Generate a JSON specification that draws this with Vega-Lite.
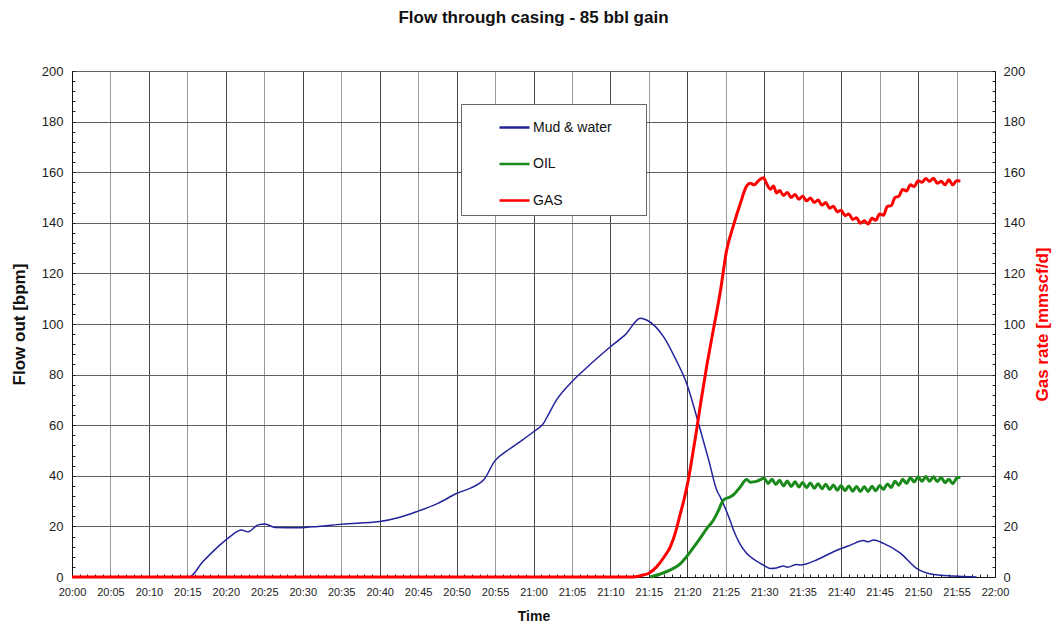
{
  "$schema": "https://vega.github.io/schema/vega-lite/v6.json",
  "width": 923,
  "height": 506,
  "autosize": {"type": "none"},
  "padding": {"left": 72, "top": 71, "right": 60, "bottom": 48},
  "background": "white",
  "title": {"text": "Flow through casing - 85 bbl gain", "fontSize": 17, "fontWeight": "bold", "font": "Liberation Sans", "color": "#111", "offset": 38, "anchor": "middle"},
  "config": {
    "view": {"stroke": "#111", "strokeWidth": 1},
    "font": "Liberation Sans",
    "axis": {"labelFont": "Liberation Sans", "titleFont": "Liberation Sans", "labelColor": "#222", "titleColor": "#111", "domainColor": "#111", "tickColor": "#222"}
  },
  "datasets": {
    "flow": [
      {"s": "Mud & water", "t": "2009-01-01T20:00:00", "v": 0},
      {"s": "Mud & water", "t": "2009-01-01T20:15:12", "v": 0},
      {"s": "Mud & water", "t": "2009-01-01T20:17:00", "v": 6},
      {"s": "Mud & water", "t": "2009-01-01T20:19:00", "v": 12},
      {"s": "Mud & water", "t": "2009-01-01T20:20:48", "v": 16.6},
      {"s": "Mud & water", "t": "2009-01-01T20:22:00", "v": 18.6},
      {"s": "Mud & water", "t": "2009-01-01T20:22:54", "v": 17.9},
      {"s": "Mud & water", "t": "2009-01-01T20:24:12", "v": 20.6},
      {"s": "Mud & water", "t": "2009-01-01T20:25:06", "v": 20.9},
      {"s": "Mud & water", "t": "2009-01-01T20:26:24", "v": 19.6},
      {"s": "Mud & water", "t": "2009-01-01T20:29:36", "v": 19.5},
      {"s": "Mud & water", "t": "2009-01-01T20:32:00", "v": 20.0},
      {"s": "Mud & water", "t": "2009-01-01T20:35:06", "v": 20.9},
      {"s": "Mud & water", "t": "2009-01-01T20:40:00", "v": 21.9},
      {"s": "Mud & water", "t": "2009-01-01T20:42:30", "v": 23.5},
      {"s": "Mud & water", "t": "2009-01-01T20:44:48", "v": 25.8},
      {"s": "Mud & water", "t": "2009-01-01T20:47:30", "v": 29},
      {"s": "Mud & water", "t": "2009-01-01T20:50:00", "v": 33},
      {"s": "Mud & water", "t": "2009-01-01T20:52:24", "v": 36},
      {"s": "Mud & water", "t": "2009-01-01T20:53:30", "v": 38.3},
      {"s": "Mud & water", "t": "2009-01-01T20:55:00", "v": 46},
      {"s": "Mud & water", "t": "2009-01-01T20:56:42", "v": 50.2},
      {"s": "Mud & water", "t": "2009-01-01T20:58:30", "v": 54},
      {"s": "Mud & water", "t": "2009-01-01T21:00:00", "v": 57.4},
      {"s": "Mud & water", "t": "2009-01-01T21:01:18", "v": 60.7},
      {"s": "Mud & water", "t": "2009-01-01T21:01:54", "v": 64},
      {"s": "Mud & water", "t": "2009-01-01T21:03:00", "v": 70},
      {"s": "Mud & water", "t": "2009-01-01T21:04:48", "v": 76.6},
      {"s": "Mud & water", "t": "2009-01-01T21:07:00", "v": 83},
      {"s": "Mud & water", "t": "2009-01-01T21:10:00", "v": 91},
      {"s": "Mud & water", "t": "2009-01-01T21:12:00", "v": 96},
      {"s": "Mud & water", "t": "2009-01-01T21:13:54", "v": 102.3},
      {"s": "Mud & water", "t": "2009-01-01T21:14:42", "v": 101.6},
      {"s": "Mud & water", "t": "2009-01-01T21:16:54", "v": 95},
      {"s": "Mud & water", "t": "2009-01-01T21:18:30", "v": 86},
      {"s": "Mud & water", "t": "2009-01-01T21:19:54", "v": 76.6},
      {"s": "Mud & water", "t": "2009-01-01T21:21:42", "v": 58},
      {"s": "Mud & water", "t": "2009-01-01T21:22:48", "v": 46},
      {"s": "Mud & water", "t": "2009-01-01T21:23:48", "v": 34.5},
      {"s": "Mud & water", "t": "2009-01-01T21:24:18", "v": 31.5},
      {"s": "Mud & water", "t": "2009-01-01T21:25:36", "v": 22},
      {"s": "Mud & water", "t": "2009-01-01T21:26:00", "v": 18.6},
      {"s": "Mud & water", "t": "2009-01-01T21:27:42", "v": 9.4},
      {"s": "Mud & water", "t": "2009-01-01T21:28:12", "v": 8},
      {"s": "Mud & water", "t": "2009-01-01T21:29:54", "v": 4.7},
      {"s": "Mud & water", "t": "2009-01-01T21:30:48", "v": 3.4},
      {"s": "Mud & water", "t": "2009-01-01T21:31:36", "v": 3.6},
      {"s": "Mud & water", "t": "2009-01-01T21:32:30", "v": 4.3},
      {"s": "Mud & water", "t": "2009-01-01T21:33:00", "v": 3.9},
      {"s": "Mud & water", "t": "2009-01-01T21:34:12", "v": 4.9},
      {"s": "Mud & water", "t": "2009-01-01T21:34:42", "v": 4.7},
      {"s": "Mud & water", "t": "2009-01-01T21:37:00", "v": 7},
      {"s": "Mud & water", "t": "2009-01-01T21:39:00", "v": 10},
      {"s": "Mud & water", "t": "2009-01-01T21:41:12", "v": 12.6},
      {"s": "Mud & water", "t": "2009-01-01T21:42:54", "v": 14.4},
      {"s": "Mud & water", "t": "2009-01-01T21:43:30", "v": 13.9},
      {"s": "Mud & water", "t": "2009-01-01T21:44:12", "v": 14.6},
      {"s": "Mud & water", "t": "2009-01-01T21:45:30", "v": 13.3},
      {"s": "Mud & water", "t": "2009-01-01T21:47:42", "v": 9.4},
      {"s": "Mud & water", "t": "2009-01-01T21:49:48", "v": 3.4},
      {"s": "Mud & water", "t": "2009-01-01T21:52:00", "v": 1},
      {"s": "Mud & water", "t": "2009-01-01T21:54:36", "v": 0.4},
      {"s": "Mud & water", "t": "2009-01-01T21:57:36", "v": 0},
      {"s": "OIL", "t": "2009-01-01T21:15:12", "v": 0},
      {"s": "OIL", "t": "2009-01-01T21:16:30", "v": 1.2},
      {"s": "OIL", "t": "2009-01-01T21:17:48", "v": 2.8},
      {"s": "OIL", "t": "2009-01-01T21:19:00", "v": 5},
      {"s": "OIL", "t": "2009-01-01T21:19:54", "v": 8},
      {"s": "OIL", "t": "2009-01-01T21:21:00", "v": 12.5},
      {"s": "OIL", "t": "2009-01-01T21:21:42", "v": 15.5},
      {"s": "OIL", "t": "2009-01-01T21:22:30", "v": 19},
      {"s": "OIL", "t": "2009-01-01T21:23:24", "v": 22.5},
      {"s": "OIL", "t": "2009-01-01T21:24:00", "v": 26},
      {"s": "OIL", "t": "2009-01-01T21:24:42", "v": 30.4},
      {"s": "OIL", "t": "2009-01-01T21:25:36", "v": 31.7},
      {"s": "OIL", "t": "2009-01-01T21:26:00", "v": 32.5},
      {"s": "OIL", "t": "2009-01-01T21:26:54", "v": 35.7},
      {"s": "OIL", "t": "2009-01-01T21:27:42", "v": 38.5},
      {"s": "OIL", "t": "2009-01-01T21:28:12", "v": 37.5},
      {"s": "OIL", "t": "2009-01-01T21:29:00", "v": 37.8},
      {"s": "OIL", "t": "2009-01-01T21:30:00", "v": 39.0},
      {"s": "OIL", "t": "2009-01-01T21:30:30", "v": 37.0},
      {"s": "OIL", "t": "2009-01-01T21:31:00", "v": 38.6},
      {"s": "OIL", "t": "2009-01-01T21:31:30", "v": 36.6},
      {"s": "OIL", "t": "2009-01-01T21:32:00", "v": 38.2},
      {"s": "OIL", "t": "2009-01-01T21:32:30", "v": 36.0},
      {"s": "OIL", "t": "2009-01-01T21:33:00", "v": 37.9},
      {"s": "OIL", "t": "2009-01-01T21:33:30", "v": 35.8},
      {"s": "OIL", "t": "2009-01-01T21:34:00", "v": 37.6},
      {"s": "OIL", "t": "2009-01-01T21:34:30", "v": 35.6},
      {"s": "OIL", "t": "2009-01-01T21:35:00", "v": 37.4},
      {"s": "OIL", "t": "2009-01-01T21:35:30", "v": 35.3},
      {"s": "OIL", "t": "2009-01-01T21:36:00", "v": 37.2},
      {"s": "OIL", "t": "2009-01-01T21:36:30", "v": 35.1},
      {"s": "OIL", "t": "2009-01-01T21:37:00", "v": 36.9},
      {"s": "OIL", "t": "2009-01-01T21:37:30", "v": 34.9},
      {"s": "OIL", "t": "2009-01-01T21:38:00", "v": 36.7},
      {"s": "OIL", "t": "2009-01-01T21:38:30", "v": 34.6},
      {"s": "OIL", "t": "2009-01-01T21:39:00", "v": 36.4},
      {"s": "OIL", "t": "2009-01-01T21:39:30", "v": 34.3},
      {"s": "OIL", "t": "2009-01-01T21:40:00", "v": 36.2},
      {"s": "OIL", "t": "2009-01-01T21:40:30", "v": 34.1},
      {"s": "OIL", "t": "2009-01-01T21:41:00", "v": 36.0},
      {"s": "OIL", "t": "2009-01-01T21:41:30", "v": 33.9},
      {"s": "OIL", "t": "2009-01-01T21:42:00", "v": 35.8},
      {"s": "OIL", "t": "2009-01-01T21:42:30", "v": 33.8},
      {"s": "OIL", "t": "2009-01-01T21:43:00", "v": 35.7},
      {"s": "OIL", "t": "2009-01-01T21:43:30", "v": 33.8},
      {"s": "OIL", "t": "2009-01-01T21:44:00", "v": 35.9},
      {"s": "OIL", "t": "2009-01-01T21:44:30", "v": 34.1},
      {"s": "OIL", "t": "2009-01-01T21:45:00", "v": 36.2},
      {"s": "OIL", "t": "2009-01-01T21:45:30", "v": 34.6},
      {"s": "OIL", "t": "2009-01-01T21:46:00", "v": 36.8},
      {"s": "OIL", "t": "2009-01-01T21:46:30", "v": 35.4},
      {"s": "OIL", "t": "2009-01-01T21:47:00", "v": 37.8},
      {"s": "OIL", "t": "2009-01-01T21:47:30", "v": 36.3},
      {"s": "OIL", "t": "2009-01-01T21:48:00", "v": 38.6},
      {"s": "OIL", "t": "2009-01-01T21:48:30", "v": 37.0},
      {"s": "OIL", "t": "2009-01-01T21:49:00", "v": 39.2},
      {"s": "OIL", "t": "2009-01-01T21:49:30", "v": 37.6},
      {"s": "OIL", "t": "2009-01-01T21:50:00", "v": 39.6},
      {"s": "OIL", "t": "2009-01-01T21:50:30", "v": 37.8},
      {"s": "OIL", "t": "2009-01-01T21:51:00", "v": 39.7},
      {"s": "OIL", "t": "2009-01-01T21:51:30", "v": 37.8},
      {"s": "OIL", "t": "2009-01-01T21:52:00", "v": 39.6},
      {"s": "OIL", "t": "2009-01-01T21:52:30", "v": 37.7},
      {"s": "OIL", "t": "2009-01-01T21:53:00", "v": 39.4},
      {"s": "OIL", "t": "2009-01-01T21:53:30", "v": 37.3},
      {"s": "OIL", "t": "2009-01-01T21:54:00", "v": 38.6},
      {"s": "OIL", "t": "2009-01-01T21:54:30", "v": 36.9},
      {"s": "OIL", "t": "2009-01-01T21:55:00", "v": 39.0},
      {"s": "OIL", "t": "2009-01-01T21:55:30", "v": 39.4},
      {"s": "GAS", "t": "2009-01-01T20:00:00", "v": 0},
      {"s": "GAS", "t": "2009-01-01T21:13:00", "v": 0},
      {"s": "GAS", "t": "2009-01-01T21:14:00", "v": 0.6},
      {"s": "GAS", "t": "2009-01-01T21:15:00", "v": 1.5},
      {"s": "GAS", "t": "2009-01-01T21:16:00", "v": 4},
      {"s": "GAS", "t": "2009-01-01T21:17:00", "v": 8},
      {"s": "GAS", "t": "2009-01-01T21:17:48", "v": 12},
      {"s": "GAS", "t": "2009-01-01T21:18:30", "v": 18},
      {"s": "GAS", "t": "2009-01-01T21:19:00", "v": 24},
      {"s": "GAS", "t": "2009-01-01T21:19:36", "v": 31},
      {"s": "GAS", "t": "2009-01-01T21:20:06", "v": 38},
      {"s": "GAS", "t": "2009-01-01T21:20:40", "v": 48},
      {"s": "GAS", "t": "2009-01-01T21:21:12", "v": 58},
      {"s": "GAS", "t": "2009-01-01T21:21:48", "v": 70},
      {"s": "GAS", "t": "2009-01-01T21:22:30", "v": 83},
      {"s": "GAS", "t": "2009-01-01T21:23:24", "v": 98},
      {"s": "GAS", "t": "2009-01-01T21:24:18", "v": 113},
      {"s": "GAS", "t": "2009-01-01T21:25:06", "v": 129},
      {"s": "GAS", "t": "2009-01-01T21:26:00", "v": 139},
      {"s": "GAS", "t": "2009-01-01T21:26:54", "v": 147.7},
      {"s": "GAS", "t": "2009-01-01T21:27:42", "v": 154.5},
      {"s": "GAS", "t": "2009-01-01T21:28:12", "v": 155.6},
      {"s": "GAS", "t": "2009-01-01T21:28:42", "v": 155},
      {"s": "GAS", "t": "2009-01-01T21:29:12", "v": 156.5},
      {"s": "GAS", "t": "2009-01-01T21:29:54", "v": 157.8},
      {"s": "GAS", "t": "2009-01-01T21:30:18", "v": 155.5},
      {"s": "GAS", "t": "2009-01-01T21:30:48", "v": 153.3},
      {"s": "GAS", "t": "2009-01-01T21:31:12", "v": 154.5},
      {"s": "GAS", "t": "2009-01-01T21:31:36", "v": 151.8},
      {"s": "GAS", "t": "2009-01-01T21:32:00", "v": 152.8},
      {"s": "GAS", "t": "2009-01-01T21:32:30", "v": 150.8},
      {"s": "GAS", "t": "2009-01-01T21:33:00", "v": 152.0},
      {"s": "GAS", "t": "2009-01-01T21:33:30", "v": 150.0},
      {"s": "GAS", "t": "2009-01-01T21:34:00", "v": 151.2},
      {"s": "GAS", "t": "2009-01-01T21:34:30", "v": 149.3},
      {"s": "GAS", "t": "2009-01-01T21:35:00", "v": 150.5},
      {"s": "GAS", "t": "2009-01-01T21:35:30", "v": 148.7},
      {"s": "GAS", "t": "2009-01-01T21:36:00", "v": 149.8},
      {"s": "GAS", "t": "2009-01-01T21:36:30", "v": 148.0},
      {"s": "GAS", "t": "2009-01-01T21:37:00", "v": 149.0},
      {"s": "GAS", "t": "2009-01-01T21:37:30", "v": 147.0},
      {"s": "GAS", "t": "2009-01-01T21:38:00", "v": 148.0},
      {"s": "GAS", "t": "2009-01-01T21:38:30", "v": 145.8},
      {"s": "GAS", "t": "2009-01-01T21:39:00", "v": 146.5},
      {"s": "GAS", "t": "2009-01-01T21:39:30", "v": 144.3},
      {"s": "GAS", "t": "2009-01-01T21:40:00", "v": 145.0},
      {"s": "GAS", "t": "2009-01-01T21:40:30", "v": 142.8},
      {"s": "GAS", "t": "2009-01-01T21:41:00", "v": 143.5},
      {"s": "GAS", "t": "2009-01-01T21:41:30", "v": 141.3},
      {"s": "GAS", "t": "2009-01-01T21:42:00", "v": 142.0},
      {"s": "GAS", "t": "2009-01-01T21:42:30", "v": 139.8},
      {"s": "GAS", "t": "2009-01-01T21:43:00", "v": 140.8},
      {"s": "GAS", "t": "2009-01-01T21:43:30", "v": 139.5},
      {"s": "GAS", "t": "2009-01-01T21:44:00", "v": 141.8},
      {"s": "GAS", "t": "2009-01-01T21:44:30", "v": 141.0},
      {"s": "GAS", "t": "2009-01-01T21:45:00", "v": 143.5},
      {"s": "GAS", "t": "2009-01-01T21:45:30", "v": 143.0},
      {"s": "GAS", "t": "2009-01-01T21:46:00", "v": 146.5},
      {"s": "GAS", "t": "2009-01-01T21:46:30", "v": 146.8},
      {"s": "GAS", "t": "2009-01-01T21:47:00", "v": 150.0},
      {"s": "GAS", "t": "2009-01-01T21:47:30", "v": 150.5},
      {"s": "GAS", "t": "2009-01-01T21:48:00", "v": 153.2},
      {"s": "GAS", "t": "2009-01-01T21:48:30", "v": 152.6},
      {"s": "GAS", "t": "2009-01-01T21:49:00", "v": 155.0},
      {"s": "GAS", "t": "2009-01-01T21:49:30", "v": 154.3},
      {"s": "GAS", "t": "2009-01-01T21:50:00", "v": 156.6},
      {"s": "GAS", "t": "2009-01-01T21:50:30", "v": 156.0},
      {"s": "GAS", "t": "2009-01-01T21:51:00", "v": 157.5},
      {"s": "GAS", "t": "2009-01-01T21:51:30", "v": 156.4},
      {"s": "GAS", "t": "2009-01-01T21:52:00", "v": 157.6},
      {"s": "GAS", "t": "2009-01-01T21:52:30", "v": 155.6},
      {"s": "GAS", "t": "2009-01-01T21:53:00", "v": 156.4},
      {"s": "GAS", "t": "2009-01-01T21:53:30", "v": 155.0},
      {"s": "GAS", "t": "2009-01-01T21:54:00", "v": 157.0},
      {"s": "GAS", "t": "2009-01-01T21:54:30", "v": 155.0},
      {"s": "GAS", "t": "2009-01-01T21:55:00", "v": 156.6},
      {"s": "GAS", "t": "2009-01-01T21:55:30", "v": 156.5}
    ]
  },
  "data": {"name": "flow"},
  "resolve": {"scale": {"y": "independent"}, "axis": {"y": "independent"}},
  "layer": [
    {
      "transform": [{"filter": "datum.s === 'Mud & water'"}],
      "mark": {"type": "line", "strokeWidth": 1.5, "interpolate": "monotone"},
      "encoding": {
        "x": {"field": "t", "type": "temporal",
          "scale": {"domain": [{"year": 2009, "month": 1, "date": 1, "hours": 20, "minutes": 0}, {"year": 2009, "month": 1, "date": 1, "hours": 22, "minutes": 0}]},
          "axis": {"tickCount": 120, "labelExpr": "minutes(datum.value) % 5 === 0 ? timeFormat(datum.value, '%H:%M') : ''", "labelOverlap": false, "labelBound": false, "labelFlush": false,
            "grid": true,
            "gridColor": {"condition": {"test": "minutes(datum.value) % 10 === 0", "value": "#444"}, "value": "#9a9a9a"},
            "gridOpacity": {"condition": {"test": "minutes(datum.value) % 5 === 0", "value": 1}, "value": 0},
            "gridWidth": 1, "tickSize": -3, "labelPadding": 12, "labelFontSize": 11,
            "title": "Time", "titleFontSize": 14, "titleFontWeight": "bold", "titlePadding": 12}},
        "y": {"field": "v", "type": "quantitative", "scale": {"domain": [0, 200], "nice": false},
          "axis": {"values": [0, 4, 8, 12, 16, 20, 24, 28, 32, 36, 40, 44, 48, 52, 56, 60, 64, 68, 72, 76, 80, 84, 88, 92, 96, 100, 104, 108, 112, 116, 120, 124, 128, 132, 136, 140, 144, 148, 152, 156, 160, 164, 168, 172, 176, 180, 184, 188, 192, 196, 200],
            "labelExpr": "datum.value % 20 === 0 ? datum.label : ''", "labelOverlap": false,
            "grid": true, "gridColor": "#606060",
            "gridOpacity": {"condition": {"test": "datum.value % 20 === 0", "value": 1}, "value": 0},
            "gridWidth": 1, "tickSize": -3, "labelPadding": 12, "labelFontSize": 13,
            "title": "Flow out [bpm]", "titleFontSize": 17, "titleFontWeight": "bold", "titlePadding": 13}},
        "color": {"field": "s", "type": "nominal",
          "scale": {"domain": ["Mud & water", "OIL", "GAS"], "range": ["#22229c", "#1a8a1a", "#ff0000"]},
          "legend": {"orient": "none", "legendX": 389, "legendY": 33, "title": "\u00a0", "titleOrient": "right", "titleFontSize": 8, "titlePadding": 27,
            "fillColor": "white", "strokeColor": "#666", "padding": 7, "symbolType": "stroke", "symbolSize": 900, "symbolStrokeWidth": 2.5, "symbolOffset": 30, "labelFontSize": 14, "labelOffset": 2, "labelColor": "#111", "rowPadding": 12.5}}
      }
    },
    {
      "transform": [{"filter": "datum.s === 'OIL'"}],
      "mark": {"type": "line", "strokeWidth": 3, "interpolate": "monotone"},
      "encoding": {
        "x": {"field": "t", "type": "temporal"},
        "y": {"field": "v", "type": "quantitative", "scale": {"domain": [0, 200], "nice": false}, "axis": null},
        "color": {"field": "s", "type": "nominal"}
      }
    },
    {
      "transform": [{"filter": "datum.s === 'GAS'"}],
      "mark": {"type": "line", "strokeWidth": 3, "interpolate": "monotone"},
      "encoding": {
        "x": {"field": "t", "type": "temporal"},
        "y": {"field": "v", "type": "quantitative", "scale": {"domain": [0, 200], "nice": false},
          "axis": {"orient": "right", "values": [0, 4, 8, 12, 16, 20, 24, 28, 32, 36, 40, 44, 48, 52, 56, 60, 64, 68, 72, 76, 80, 84, 88, 92, 96, 100, 104, 108, 112, 116, 120, 124, 128, 132, 136, 140, 144, 148, 152, 156, 160, 164, 168, 172, 176, 180, 184, 188, 192, 196, 200],
            "labelExpr": "datum.value % 20 === 0 ? datum.label : ''", "labelOverlap": false,
            "grid": false, "tickSize": -3, "labelPadding": 11, "labelFontSize": 13,
            "title": "Gas rate [mmscf/d]", "titleColor": "#ff0000", "titleFontSize": 17, "titleFontWeight": "bold", "titleAngle": 270, "titleBaseline": "top", "titlePadding": 10}},
        "color": {"field": "s", "type": "nominal"}
      }
    }
  ]
}
